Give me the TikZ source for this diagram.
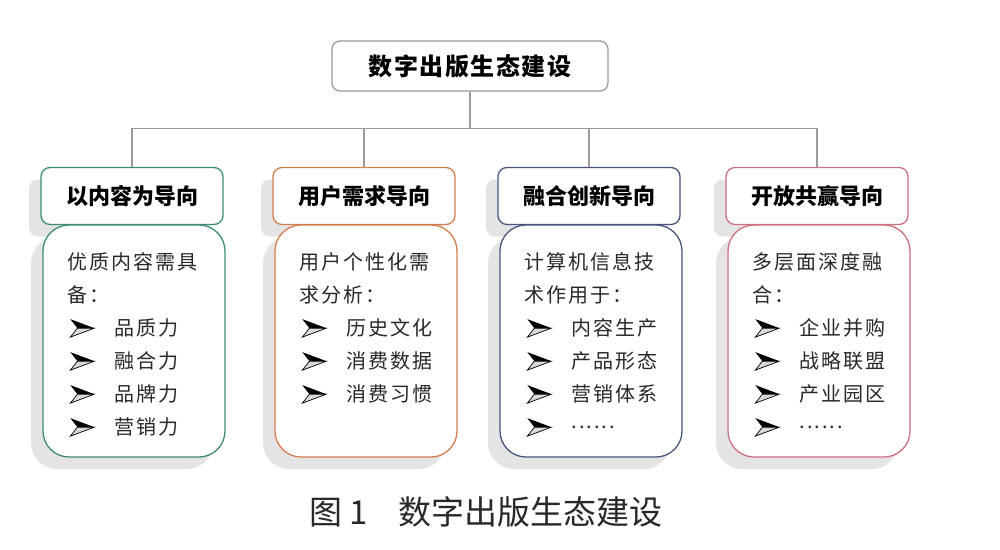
\documentclass[tikz,border=0pt]{standalone}
\usepackage{fontspec}
\setmainfont{Noto Sans CJK SC}
\newfontfamily\bodyfont{Noto Sans CJK SC}[LetterSpace=10]
\newfontfamily\rootfont{Noto Sans CJK SC}[LetterSpace=6]
\usetikzlibrary{calc,shadows}
\definecolor{linegray}{RGB}{155,155,155}
\definecolor{shadowgray}{RGB}{228,228,228}
\definecolor{colgreen}{RGB}{62,140,120}
\definecolor{colorange}{RGB}{214,125,80}
\definecolor{colnavy}{RGB}{72,86,125}
\definecolor{colpink}{RGB}{205,112,128}
\definecolor{textgray}{RGB}{40,40,40}
\tikzset{
	boxshadow/.style={general shadow={shadow xshift=-12pt,shadow yshift=-12pt,fill=shadowgray}},
	headbox/.style={draw=#1,line width=1.3pt,fill=white,rounded corners=9pt,minimum width=182pt,minimum height=57pt,boxshadow,font=\bfseries\fontsize{22}{22}\selectfont},
	bodybox/.style={draw=#1,line width=1.3pt,fill=white,rounded corners=26pt,minimum width=182pt,minimum height=232pt,boxshadow},
	line/.style={anchor=west,inner sep=0pt,text=textgray,font=\bodyfont\fontsize{20}{20}\selectfont},
	pointer/.pic={
		\fill[black] (12,0) -- (-12,-9) -- (-5,0) -- cycle;
		\filldraw[fill=gray!30,draw=black,line width=0.7pt] (12,0) -- (-5,0) -- (-12,9) -- cycle;
	}
}

\begin{document}
\begin{tikzpicture}[x=1pt,y=-1pt]
			\useasboundingbox[fill=white] (0,0) rectangle (1000,549);
			
			\node[draw=linegray,line width=1.3pt,rounded corners=8pt,minimum width=276pt,minimum height=50pt,font=\rootfont\bfseries\fontsize{24}{24}\selectfont] (root) at (470,66) {数字出版生态建设};
			
			\node[headbox=colgreen] (h1) at (132,196) {以内容为导向};
			\node[headbox=colorange] (h2) at (364,196) {用户需求导向};
			\node[headbox=colnavy] (h3) at (589,196) {融合创新导向};
			\node[headbox=colpink] (h4) at (817,196) {开放共赢导向};
			
			\node[bodybox=colgreen] (b1) at ($(h1)+(2,145)$) {};
			\node[bodybox=colorange] (b2) at ($(h2)+(2,145)$) {};
			\node[bodybox=colnavy] (b3) at ($(h3)+(2,145)$) {};
			\node[bodybox=colpink] (b4) at ($(h4)+(2,145)$) {};
			
			%tree
			\coordinate (m) at ($(root.south)+(0,37)$);
			\draw[linegray,line width=1.3pt] (root.south) -- (m);
			\draw[linegray,line width=1.3pt] (h1.north) |- (m) -| (h4.north);
			\draw[linegray,line width=1.3pt] (h2.north) -- (h2.north |- m);
			\draw[linegray,line width=1.3pt] (h3.north) -- (h3.north |- m);
			
			%column 1
			\node[line] (t11) at ($(h1.south west)+(27,37)$) {优质内容需具};
			\node[line] (t12) at ($(t11.west)+(0,33)$) {备：};
			\pic at ($(t12.west)+(15,33)$) {pointer};
			\node[line] (t13) at ($(t12.west)+(47,33)$) {品质力};
			\pic at ($(t12.west)+(15,66)$) {pointer};
			\node[line] (t14) at ($(t13.west)+(0,33)$) {融合力};
			\pic at ($(t12.west)+(15,99)$) {pointer};
			\node[line] (t15) at ($(t14.west)+(0,33)$) {品牌力};
			\pic at ($(t12.west)+(15,132)$) {pointer};
			\node[line] (t16) at ($(t15.west)+(0,33)$) {营销力};
			
			%column 2
			\node[line] (t21) at ($(h2.south west)+(27,37)$) {用户个性化需};
			\node[line] (t22) at ($(t21.west)+(0,33)$) {求分析：};
			\pic at ($(t22.west)+(15,33)$) {pointer};
			\node[line] (t23) at ($(t22.west)+(47,33)$) {历史文化};
			\pic at ($(t22.west)+(15,66)$) {pointer};
			\node[line] (t24) at ($(t23.west)+(0,33)$) {消费数据};
			\pic at ($(t22.west)+(15,99)$) {pointer};
			\node[line] (t25) at ($(t24.west)+(0,33)$) {消费习惯};
			
			%column 3
			\node[line] (t31) at ($(h3.south west)+(27,37)$) {计算机信息技};
			\node[line] (t32) at ($(t31.west)+(0,33)$) {术作用于：};
			\pic at ($(t32.west)+(15,33)$) {pointer};
			\node[line] (t33) at ($(t32.west)+(47,33)$) {内容生产};
			\pic at ($(t32.west)+(15,66)$) {pointer};
			\node[line] (t34) at ($(t33.west)+(0,33)$) {产品形态};
			\pic at ($(t32.west)+(15,99)$) {pointer};
			\node[line] (t35) at ($(t34.west)+(0,33)$) {营销体系};
			\pic at ($(t32.west)+(15,132)$) {pointer};
			\node[line] (t36) at ($(t35.west)+(0,33)$) {......};
			
			%column 4
			\node[line] (t41) at ($(h4.south west)+(27,37)$) {多层面深度融};
			\node[line] (t42) at ($(t41.west)+(0,33)$) {合：};
			\pic at ($(t42.west)+(15,33)$) {pointer};
			\node[line] (t43) at ($(t42.west)+(47,33)$) {企业并购};
			\pic at ($(t42.west)+(15,66)$) {pointer};
			\node[line] (t44) at ($(t43.west)+(0,33)$) {战略联盟};
			\pic at ($(t42.west)+(15,99)$) {pointer};
			\node[line] (t45) at ($(t44.west)+(0,33)$) {产业园区};
			\pic at ($(t42.west)+(15,132)$) {pointer};
			\node[line] (t46) at ($(t45.west)+(0,33)$) {......};
			
			%caption
			\node[text=textgray,font=\fontsize{33}{33}\selectfont] (cap) at (486,512) {图 1\hspace{31pt}数字出版生态建设};
		\end{tikzpicture}
\end{document}
